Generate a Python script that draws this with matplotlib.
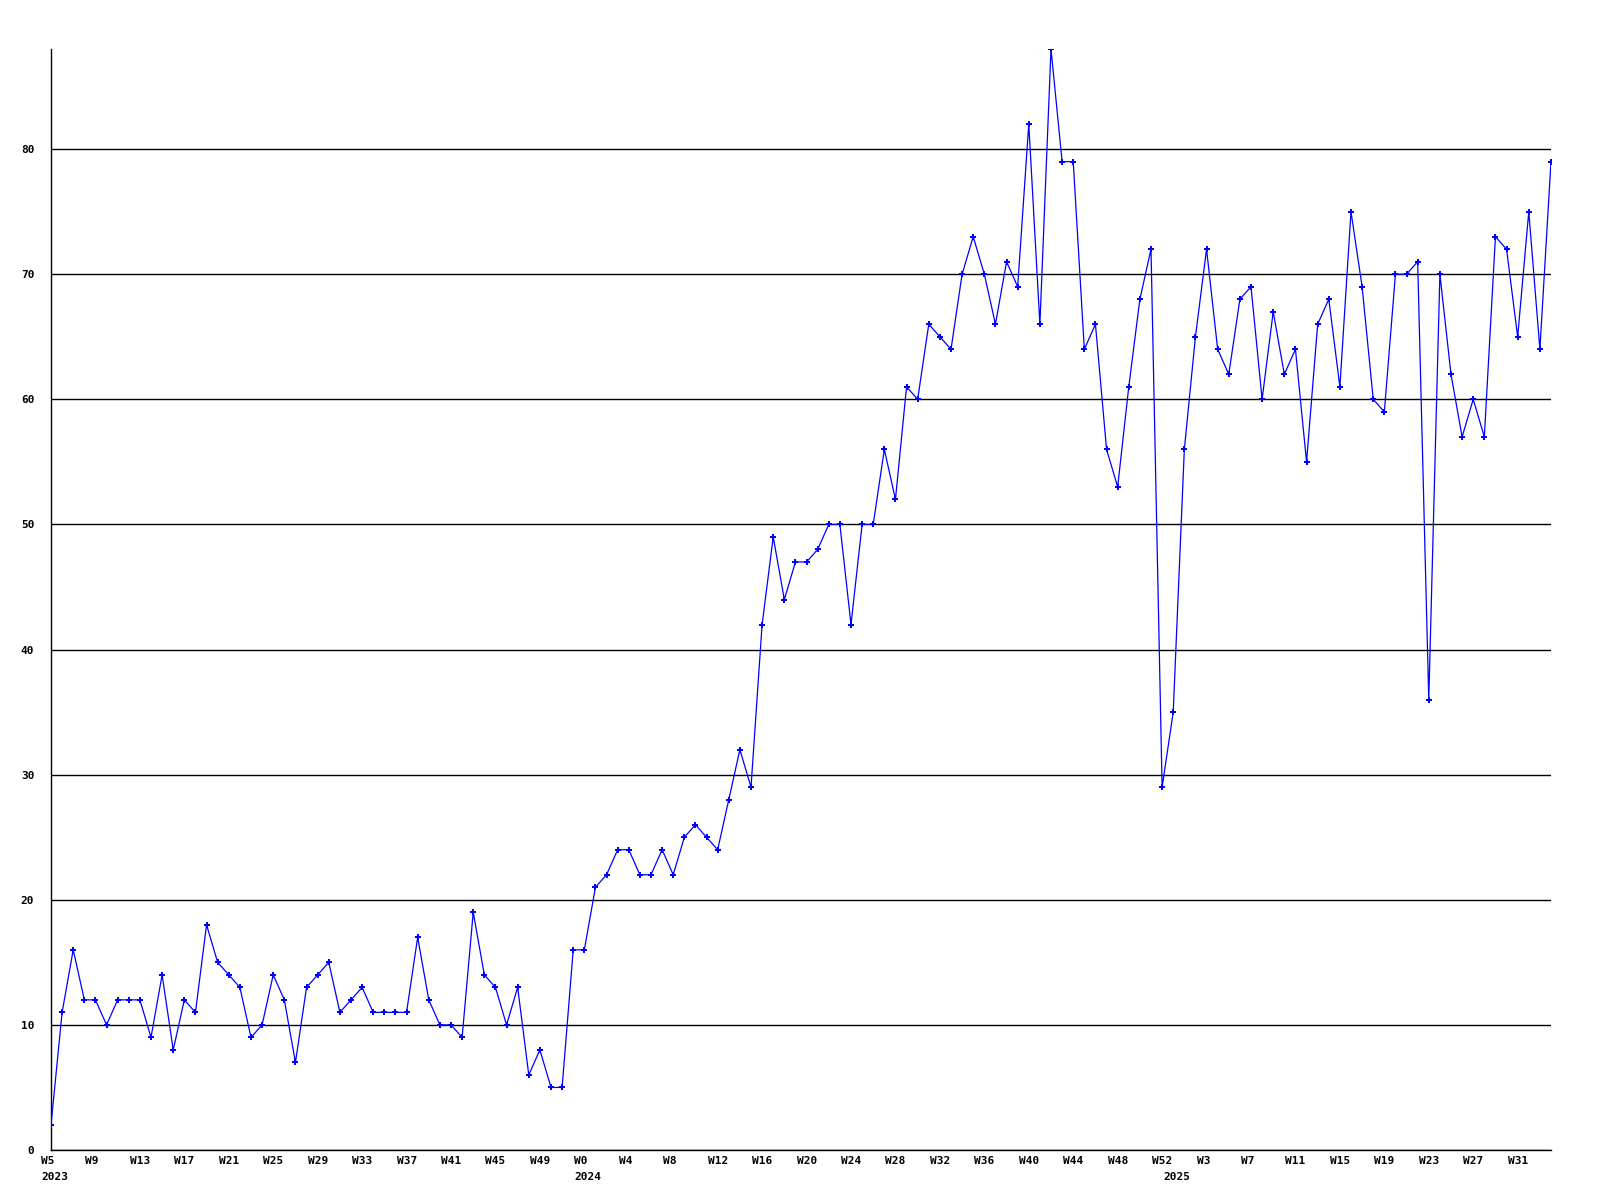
import numpy as np
import matplotlib
matplotlib.use("Agg")
import matplotlib.pyplot as plt
from matplotlib.transforms import ScaledTranslation
from matplotlib.font_manager import FontProperties

# weekly counts, W5 2023 .. W31+ 2025
values = [2, 11, 16, 12, 12, 10, 12, 12, 12, 9, 14, 8, 12, 11, 18, 15, 14, 13, 9, 10,
          14, 12, 7, 13, 14, 15, 11, 12, 13, 11, 11, 11, 11, 17, 12, 10, 10, 9, 19, 14,
          13, 10, 13, 6, 8, 5, 5, 16, 16, 21,
          22, 24, 24, 22, 22, 24, 22, 25, 26, 25, 24, 28, 32, 29, 42, 49, 44, 47, 47, 48,
          50, 50, 42, 50, 50, 56, 52, 61, 60, 66, 65, 64, 70, 73, 70, 66, 71, 69, 82, 66,
          88, 79, 79, 64, 66, 56, 53, 61, 68, 72,
          29, 35, 56, 65, 72, 64, 62, 68, 69, 60, 67, 62, 64, 55, 66, 68, 61, 75, 69, 60,
          59, 70, 70, 71, 36, 70, 62, 57, 60, 57, 73, 72, 65, 75, 64, 79]

week_labels = ["W5", "W9", "W13", "W17", "W21", "W25", "W29", "W33", "W37", "W41", "W45", "W49",
               "W0", "W4", "W8", "W12", "W16", "W20", "W24", "W28", "W32", "W36", "W40", "W44",
               "W48", "W52",
               "W3", "W7", "W11", "W15", "W19", "W23", "W27", "W31"]
year_labels = ["2023", "2024", "2025"]
year_index = [0, 48, 101]
y_ticks = [0, 10, 20, 30, 40, 50, 60, 70, 80]

x = np.arange(len(values))

fig = plt.figure(figsize=(16, 12), dpi=100)
ax = fig.add_axes([51 / 1600, 1 - 1150 / 1200, 1500 / 1600, 1101 / 1200])

ax.plot(x, values, '-', color=(0, 0, 1), linewidth=0.9, marker='P',
        markersize=4.5, markeredgewidth=0, zorder=3)

ax.set_xlim(0, len(values) - 1)
ax.set_ylim(0, 88)

for side in ['top', 'right']:
    ax.spines[side].set_visible(False)
for side in ['left', 'bottom']:
    ax.spines[side].set_color('black')
    ax.spines[side].set_linewidth(1.0)

ax.set_yticks(y_ticks)
ax.set_yticklabels([str(v) for v in y_ticks])
ax.yaxis.grid(True, color='black', linewidth=1.0)
ax.set_axisbelow(True)

# year labels share positions with week ticks, keep both
ax.xaxis.remove_overlapping_locs = False
ax.set_xticks(x[::4][:len(week_labels)])
ax.set_xticklabels(week_labels, ha='left')
ax.set_xticks(year_index, minor=True)
ax.set_xticklabels(year_labels, minor=True, ha='left')

fnt = FontProperties(family='DejaVu Sans Mono', weight='bold', size=8)
ax.tick_params(axis='both', which='both', length=0)
ax.tick_params(axis='y', pad=12)
ax.tick_params(axis='x', which='major', pad=4)
ax.tick_params(axis='x', which='minor', pad=16)

shift = ScaledTranslation(-10 / 100, 0, fig.dpi_scale_trans)
for lbl in ax.get_xticklabels() + ax.get_xticklabels(minor=True):
    lbl.set_transform(lbl.get_transform() + shift)
    lbl.set_fontproperties(fnt)
for lbl in ax.get_yticklabels():
    lbl.set_fontproperties(fnt)

plt.savefig("out.png", dpi=100, facecolor='white')
plt.close(fig)
